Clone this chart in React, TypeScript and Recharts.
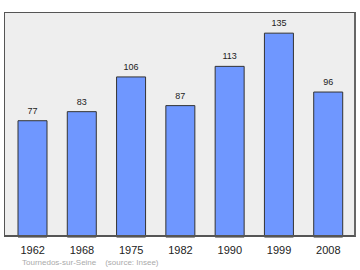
import { BarChart, Bar, XAxis, YAxis, CartesianGrid, LabelList } from "recharts"

const years = ["1962", "1968", "1975", "1982", "1990", "1999", "2008"]
const population = [77, 83, 106, 87, 113, 135, 96]

const data = years.map((year, i) => ({ year, population: population[i] }))

export default function App() {
  return (
    <div style={{ position: "relative", width: 360, height: 270, fontFamily: "'Liberation Sans', Arial, sans-serif" }}>
      <style>{`body{margin:0}`}</style>
      <BarChart width={360} height={270} data={data} margin={{ top: 12, right: 4, left: 4, bottom: 0 }}>
        <CartesianGrid fill="#eeeeee" horizontal={false} vertical={false} />
        <XAxis
          dataKey="year"
          padding={{ left: 4, right: 3 }}
          axisLine={false}
          tickLine={false}
          tickSize={0}
          tickMargin={9}
          tick={{ fontSize: 11, fill: "#222" }}
          interval={0}
          height={33}
        />
        <YAxis domain={[0, 149]} width={0} axisLine={false} tick={false} tickLine={false} />
        <Bar dataKey="population" fill="#6f97ff" stroke="#333" strokeWidth={1} barSize={29} isAnimationActive={false}>
          <LabelList dataKey="population" position="top" offset={7} style={{ fontSize: 9, fill: "#222" }} />
        </Bar>
      </BarChart>
      {/* frame around the plot area */}
      <div
        style={{
          position: "absolute",
          left: 4,
          top: 12,
          width: 352,
          height: 225,
          boxSizing: "border-box",
          borderTop: "1px solid #555",
          borderLeft: "1px solid #555",
          borderRight: "2px solid #666",
          borderBottom: "2px solid #555",
          pointerEvents: "none",
        }}
      />
      <div style={{ position: "absolute", left: 22, top: 258, fontSize: 8, color: "#aaaaaa", whiteSpace: "pre" }}>
        {"Tournedos-sur-Seine    (source: Insee)"}
      </div>
    </div>
  )
}
